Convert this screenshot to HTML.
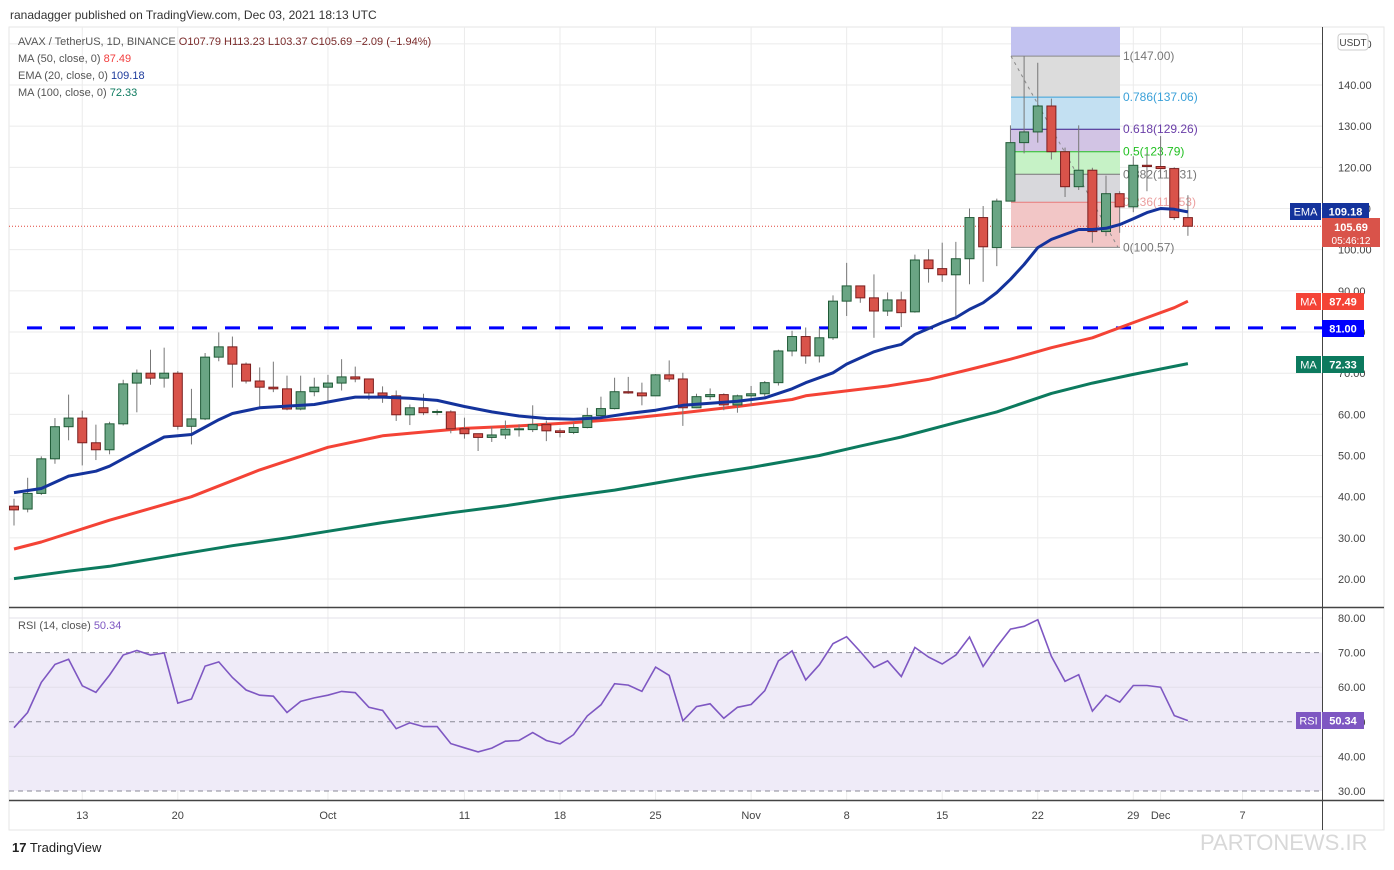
<!DOCTYPE html>
<html><head><meta charset="utf-8">
<style>
html,body{margin:0;padding:0;background:#fff;}
body{width:1394px;height:865px;overflow:hidden;position:relative;font-family:"Liberation Sans","DejaVu Sans",sans-serif;}
svg text{font-family:"Liberation Sans","DejaVu Sans",sans-serif;}
</style></head><body>
<svg id="chart" width="1394" height="865" viewBox="0 0 1394 865" xmlns="http://www.w3.org/2000/svg">
<text x="10" y="19" font-size="12" fill="#333">ranadagger published on TradingView.com, Dec 03, 2021 18:13 UTC</text>
<rect x="9" y="27" width="1375" height="803" fill="#fff" stroke="#e6e6e6"/>
<g id="grid"></g>
<g id="fib"></g>
<g id="series"></g>
<g id="legend">
<text x="18" y="45" font-size="11" fill="#555">AVAX / TetherUS, 1D, BINANCE  <tspan fill="#7a2a2a">O107.79  H113.23  L103.37  C105.69  −2.09 (−1.94%)</tspan></text>
<text x="18" y="62" font-size="11" fill="#555">MA (50, close, 0)  <tspan fill="#f23d3d">87.49</tspan></text>
<text x="18" y="79" font-size="11" fill="#555">EMA (20, close, 0)  <tspan fill="#1e3c9c">109.18</tspan></text>
<text x="18" y="96" font-size="11" fill="#555">MA (100, close, 0)  <tspan fill="#0c7a5e">72.33</tspan></text>
</g>
<text x="18" y="629" font-size="11" fill="#555">RSI (14, close)  <tspan fill="#7e57c2">50.34</tspan></text>
<g id="axis"></g>
<text x="12" y="852" font-size="13" fill="#222"><tspan font-weight="bold">17</tspan> TradingView</text>
<text x="1200" y="850" font-size="22" fill="#d8d8d8">PARTONEWS.IR</text>
</svg>
<script>
const opens=[37.7,37,40.8,49.2,57,59.1,53.1,51.4,57.7,67.6,70,68.8,70,57.1,58.9,73.9,76.4,72.2,68.1,66.6,66.2,61.3,65.5,66.6,67.6,69.1,68.6,65.2,64.5,59.9,61.6,60.5,60.6,56.5,55.3,54.4,55,56.3,56.3,57.5,56,55.6,56.8,59.7,61.4,65.5,65.2,64.5,69.6,68.6,61.6,64.3,64.8,62.3,64.5,65,67.7,75.4,78.9,74.2,78.6,87.5,91.2,88.3,85.1,87.8,84.9,97.5,95.4,93.9,97.8,107.8,100.5,111.8,126,128.6,134.9,123.8,115.3,119.3,104.4,113.6,110.4,120.5,120.2,119.7,107.79];
const highs=[39.5,44.6,49.8,59.1,64.8,60.9,57.5,58.2,68.4,70.9,75.7,76.2,70.5,66.2,74.9,79.9,78.9,72.6,71.4,72.8,69.4,69.4,68.9,69.6,73.4,71.6,68.6,66.8,65.8,62.4,65,61.2,61,59.2,55.3,57,58.5,57.6,62.2,58.5,56.6,58,61.6,64.3,68.9,69.1,67.7,69.8,73.1,70.1,65,66.3,65.1,64.8,66.9,68.1,75.7,80.3,81.1,80.9,88.9,96.8,91.3,94,89.6,89.8,98.8,100.1,101.7,101.9,110,110.6,112.4,130.2,147,145.4,136.7,124.8,130.2,119.9,118,114.2,122.7,123.5,127.6,120,113.23];
const lows=[33,36.2,40.4,48,53.7,47.6,48.9,50.3,57.3,60.5,67.2,66.5,56.3,52.7,58.6,72.9,66.5,67.5,61.8,65.4,61,61,64.4,63.2,65.8,67.8,63.5,62.8,58.4,57.4,59.8,59.8,55.4,54.1,51.1,53.3,54,54.6,55.7,53.5,54.4,55.2,56.6,58.8,61.2,65,62.2,64.5,67.9,57.2,61.5,63.5,61,60.4,62.2,64.4,67,74.1,72.3,72.6,78.1,83.9,87.1,78.6,83.9,81.2,84.7,92,92.2,83.9,91.6,92.2,96,111.8,123.4,126,121.9,112.8,114.5,101.7,103.3,104.1,109.1,114.2,119.4,107.2,103.37];
const closes=[36.8,40.8,49.2,57,59.1,53.1,51.4,57.7,67.4,70,68.8,70,57.1,58.9,73.9,76.4,72.2,68.1,66.6,66.2,61.3,65.5,66.6,67.6,69.1,68.6,65.2,64.5,59.9,61.6,60.4,60.7,56.5,55.3,54.4,55,56.4,56.5,57.5,56,55.6,56.8,59.7,61.4,65.5,65.2,64.5,69.6,68.6,61.6,64.3,64.8,62.3,64.5,65,67.7,75.4,78.9,74.2,78.6,87.5,91.2,88.3,85.1,87.8,84.7,97.5,95.4,93.9,97.8,107.8,100.7,111.8,126,128.6,134.9,123.8,115.3,119.3,104.4,113.6,110.4,120.5,120.2,119.7,107.8,105.69];
const emaIdx=[0,2,4,6,7,9,11,13,15,16,18,20,22,24,25,27,29,31,33,35,37,39,41,43,45,47,49,51,53,55,57,58,60,61,63,64,65,66,68,69,70,71,72,73,74,75,76,77,78,79,80,81,82,83,84,85,86];
const emaVal=[41,42,45,46.2,47.4,51,54.5,55.1,58.7,60.2,61.6,62,62.4,63.6,64.2,64.2,63.9,63.4,61.9,60.6,59.6,59,58.8,59.2,60.2,61,62.2,62.7,63.2,64,66.2,67.7,70.1,72.2,75.2,76.2,77,79.4,82.3,83.5,85.5,87.1,89.6,92.8,96.4,100.5,102.5,103.7,104.9,104.9,105.2,106.1,107.5,109,110,109.8,109.18];
const ma50Idx=[0,2,7,13,18,23,27,29,33,37,41,45,49,53,57,58,61,64,67,70,73,76,79,82,85,86];
const ma50Val=[27.3,29,34.3,40,46.5,52,54.8,55.4,56.6,57.2,58,59,60.4,61.9,63.6,64.5,65.7,66.9,68.5,70.9,73.4,76.2,78.6,82.3,85.9,87.49];
const ma100Idx=[0,4,7,12,16,20,23,27,32,36,40,44,47,50,54,59,62,65,69,72,76,79,82,86];
const ma100Val=[20.1,21.9,23.1,25.9,28.1,30,31.6,33.7,36.1,37.8,39.8,41.6,43.3,45,47.1,50,52.3,54.5,58,60.6,65.1,67.6,69.7,72.33];
const rsiVal=[48.3,52.7,61.4,66.6,68.1,60.4,58.5,63.5,69.3,70.6,69.3,69.9,55.4,56.6,66.1,67.3,62.8,59.2,57.7,57.4,52.7,55.9,56.9,57.7,58.8,58.4,54.2,53.3,48,49.7,48.6,48.6,43.7,42.5,41.3,42.4,44.4,44.6,46.9,44.6,43.6,46.3,51.7,54.9,61,60.6,58.8,65.8,63.4,50.3,54.4,55.2,51,54.2,55,59,67.6,70.5,62.1,66.5,72.6,74.6,70.3,65.7,67.6,63.1,71.5,68.7,66.7,69.3,74.5,66,71.7,76.8,77.6,79.5,68.9,61.7,63.6,53.1,57.7,55.7,60.5,60.5,60,51.8,50.34];
const priceTicks=[150,140,130,120,110,100,90,80,70,60,50,40,30,20];
const rsiTicks=[80,70,60,50,40,30];
const dateLabels=["13","20","Oct","11","18","25","Nov","8","15","22","29","Dec","7"];
const dateIdx=[5,12,23,33,40,47,54,61,68,75,82,84,90];
const fibLevels=[1,0.786,0.618,0.5,0.382,0.236,0];
const fibPrices=[147,137.06,129.26,123.79,118.31,111.53,100.57];

const NS="http://www.w3.org/2000/svg";
const yP=p=>85+(140-p)*4.117;
const xI=i=>14+13.65*i;
const yR=r=>618+(80-r)*3.46;
function mk(tag,attrs,parent){const e=document.createElementNS(NS,tag);for(const k in attrs)e.setAttribute(k,attrs[k]);parent.appendChild(e);return e;}
const gridG=document.getElementById('grid'),ser=document.getElementById('series'),ax=document.getElementById('axis'),fibG=document.getElementById('fib');

priceTicks.forEach(t=>{const y=yP(t);if(y<28)return;const l=mk('line',{x1:9,x2:1322,y1:y,y2:y,stroke:'#ebebeb'},gridG);

});
dateIdx.forEach((d)=>{const x=xI(d);const l=mk('line',{x1:x,x2:x,y1:27,y2:800,stroke:'#ebebeb'},gridG);

});
const band=mk('rect',{x:9,y:yR(70),width:1313,height:yR(30)-yR(70),fill:'#efebf8'},gridG);


rsiTicks.forEach(t=>{const y=yR(t);const dashed=(t===70||t===50||t===30);const l=mk('line',{x1:9,x2:1322,y1:y,y2:y,stroke:dashed?'#8a8a96':'#e3e0ea','stroke-dasharray':dashed?'5,4':'none'},gridG);

});
const dv=mk('line',{x1:9,x2:1384,y1:607.5,y2:607.5,stroke:'#444','stroke-width':1.5},gridG);


const bx=mk('line',{x1:9,x2:1384,y1:800.5,y2:800.5,stroke:'#444','stroke-width':1.5},gridG);


const ra=mk('line',{x1:1322.5,x2:1322.5,y1:27,y2:830,stroke:'#444'},gridG);



const fx1=1011,fx2=1120;
const fibFills=['#dcdcdc','#c3e0f2','#d2c4e4','#c6f2c6','#d8d8dc','#f2c6c6'];
const fibLines=['#888','#3aa0d8','#3a1e8c','#22c022','#777','#e87a7a','#888'];
const fibText=['#777','#3aa0d8','#6a3ea8','#22c022','#777','#eba0a0','#777'];
const fibTop=mk('rect',{x:fx1,y:27,width:fx2-fx1,height:yP(fibPrices[0])-27,fill:'#c2c2f0'},fibG);


for(let k=0;k<fibPrices.length-1;k++){const r=mk('rect',{x:fx1,y:yP(fibPrices[k]),width:fx2-fx1,height:yP(fibPrices[k+1])-yP(fibPrices[k]),fill:fibFills[k]},fibG);

}
fibPrices.forEach((p,k)=>{const y=yP(p);const l=mk('line',{x1:fx1,x2:fx2,y1:y,y2:y,stroke:fibLines[k]},fibG);


const t=mk('text',{x:1123,y:y+4,'font-size':12,fill:fibText[k]},fibG);t.textContent=fibLevels[k]+'('+p.toFixed(2)+')';

});
const dg=mk('line',{x1:fx1,y1:yP(147),x2:1118,y2:yP(100.57),stroke:'#888','stroke-dasharray':'3,4'},fibG);



const sl=mk('line',{x1:27,x2:1322,y1:yP(81),y2:yP(81),stroke:'#0000ff','stroke-width':3,'stroke-dasharray':'15,18'},ser);


const cp=mk('line',{x1:9,x2:1322,y1:yP(105.69),y2:yP(105.69),stroke:'#e0473b','stroke-dasharray':'1,2'},ser);



function drawLine(idx,val,color,name,w){const d=idx.map((i,k)=>(k?'L':'M')+xI(i).toFixed(1)+','+yP(val[k]).toFixed(1)).join('');const p=mk('path',{d:d,fill:'none',stroke:color,'stroke-width':w,'stroke-linejoin':'round'},ser);

}
drawLine(ma100Idx,ma100Val,'#0c7a5e','ma100-line',3);
drawLine(ma50Idx,ma50Val,'#f44336','ma50-line',3);

opens.forEach((o,i)=>{const c=closes[i],h=highs[i],l=lows[i],x=xI(i);const up=c>=o;
const g=mk('g',{},ser);


mk('line',{x1:x,x2:x,y1:yP(h),y2:yP(l),stroke:'#777','stroke-width':1},g);
const yt=yP(Math.max(o,c)),yb=yP(Math.min(o,c));
mk('rect',{x:x-4.5,y:yt,width:9,height:Math.max(1,yb-yt),fill:up?'#6aa584':'#d9534a',stroke:up?'#1f5a36':'#7a1e1e','stroke-width':1},g);});
drawLine(emaIdx,emaVal,'#14339c','ema20-line',3);

const rd=rsiVal.map((r,i)=>(i?'L':'M')+xI(i).toFixed(1)+','+yR(r).toFixed(1)).join('');
const rp=mk('path',{d:rd,fill:'none',stroke:'#7e57c2','stroke-width':1.6},ser);



priceTicks.forEach(t=>{const y=yP(t);if(y<40)return;const tx=mk('text',{x:1338,y:y+4,'font-size':11,fill:'#444'},ax);tx.textContent=t.toFixed(2);

});
rsiTicks.forEach(t=>{const tx=mk('text',{x:1338,y:yR(t)+4,'font-size':11,fill:'#444'},ax);tx.textContent=t.toFixed(2);

});
dateLabels.forEach((s,k)=>{const tx=mk('text',{x:xI(dateIdx[k]),y:819,'font-size':11,fill:'#444','text-anchor':'middle'},ax);tx.textContent=s;

});

function tag(x,y,w,h,bg,txt,name,fs,bold){const g=mk('g',{},ax);


mk('rect',{x:x,y:y,width:w,height:h,fill:bg},g);const t=mk('text',{x:x+w/2,y:y+h/2+4,'font-size':fs||11,fill:'#fff','text-anchor':'middle','font-weight':bold?'bold':'normal'},g);t.textContent=txt;return g;}
tag(1290,203,31,17,'#14339c','EMA','ema-tag-label');
tag(1322,203,47,17,'#14339c','109.18','ema-value-tag',11,true);
const pg=mk('g',{},ax);


mk('rect',{x:1322,y:218,width:58,height:29,fill:'#d9534a'},pg);
const t1=mk('text',{x:1351,y:231,'font-size':11,fill:'#fff','text-anchor':'middle','font-weight':'bold'},pg);t1.textContent='105.69';
const t2=mk('text',{x:1351,y:244,'font-size':10,fill:'#fff','text-anchor':'middle'},pg);t2.textContent='05:46:12';
tag(1296,293,25,17,'#f44336','MA','ma50-tag-label');
tag(1322,293,42,17,'#f44336','87.49','ma50-value-tag',11,true);
tag(1322,320,42,17,'#0000ff','81.00','support-value-tag',11,true);
tag(1296,356,25,17,'#0c7a5e','MA','ma100-tag-label');
tag(1322,356,42,17,'#0c7a5e','72.33','ma100-value-tag',11,true);
tag(1296,712,25,17,'#7e57c2','RSI','rsi-tag-label');
tag(1322,712,42,17,'#7e57c2','50.34','rsi-value-tag',11,true);
const ub=mk('g',{},ax);


mk('rect',{x:1338,y:34,width:30,height:16,rx:3,fill:'#fff',stroke:'#ccc'},ub);
const ut=mk('text',{x:1353,y:46,'font-size':10,fill:'#444','text-anchor':'middle'},ub);ut.textContent='USDT';
</script>
</body></html>
